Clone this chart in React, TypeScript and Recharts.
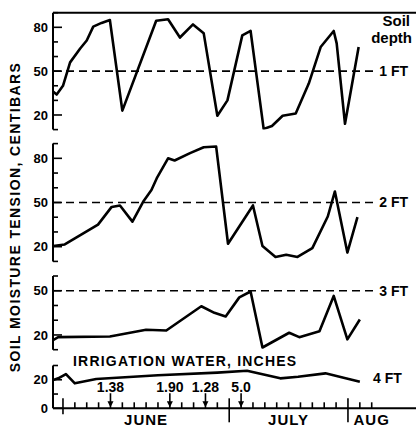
import React from 'react';
import { ComposedChart, Line, XAxis, YAxis, ReferenceLine, Scatter } from 'recharts';

const W = 416;
const H = 430;
const FONT = '"Liberation Sans", Arial, Helvetica, sans-serif';

// x is counted in axis tick steps, 0 = start of June
const dayTicks = [0, 1, 2, 3, 4, 5, 6, 7, 8, 9, 10, 11, 12, 13, 14, 15, 16, 17, 18, 19, 20, 21, 22, 23, 24, 25, 26];
const monthNames = ['JUNE', 'JULY', 'AUG'];
const monthStarts = [0, 14, 24];
const monthCenters = [7, 19, 26];

const tensionLabels = [0, 20, 50, 80];

// 1 FT
const depth1Days = [-0.84, -0.53, 0.0, 0.6, 1.45, 2.0, 2.55, 3.25, 3.95, 5.0, 7.85, 8.85, 9.85, 10.95, 11.85, 13.0, 13.85, 15.1, 15.8, 16.9, 17.6, 18.5, 19.6, 20.7, 21.7, 22.8, 23.05, 23.75, 24.9];
const depth1Tension = [36, 34, 40, 56, 65.5, 71, 80.5, 83, 85, 23, 84.5, 85.5, 73, 82, 76, 19.5, 30, 74.5, 77.5, 10.5, 12.5, 19.5, 21, 41.5, 66.5, 77.5, 69, 14, 66.5];

// 2 FT
const depth2Days = [-0.84, 0.15, 2.95, 4.1, 4.8, 5.85, 6.75, 7.45, 7.9, 8.85, 9.4, 10.7, 11.85, 12.9, 13.9, 16.0, 16.8, 17.9, 18.8, 19.75, 21.0, 22.3, 22.9, 23.95, 24.8];
const depth2Tension = [20.5, 21.5, 35, 47, 48, 37, 50.5, 58.5, 66.5, 80, 78.5, 83.5, 87.5, 88, 22, 48, 20.5, 13, 14.5, 13, 19, 40.5, 57.5, 16, 40];

// 3 FT
const depth3Days = [-0.84, -0.4, 3.95, 7.0, 8.7, 11.65, 12.75, 13.7, 14.85, 15.8, 16.8, 19.05, 19.9, 21.6, 22.8, 23.95, 25.0];
const depth3Tension = [16.5, 18.5, 19, 23.5, 23, 39.5, 35, 32.5, 45.5, 49.5, 11.5, 21.5, 18.5, 22.5, 46.5, 17, 30.5];

// 4 FT
const depth4Days = [-0.84, -0.4, 0.25, 1.0, 2.8, 8.0, 13.0, 15.5, 18.3, 19.8, 22.1, 25.0];
const depth4Tension = [19.8, 21, 24, 17.5, 20.5, 23.2, 25, 26.3, 21, 22.1, 24.5, 18.6];

// irrigation applications
const irrigationDays = [4, 9, 12, 15];
const irrigationInches = ['1.38', '1.90', '1.28', '5.0'];

const X_DOMAIN: [number, number] = [-0.84, 29.73];

const toRows = (days: number[], vals: number[]) => days.map((t, i) => ({ t, v: vals[i] }));

const panels = [
  { name: '1 FT', rows: toRows(depth1Days, depth1Tension), domain: [10, 90], ticks: [10, 20, 30, 40, 50, 60, 70, 80, 90], top: 12.7, bottom: 129.6, dashed: true, border: true },
  { name: '2 FT', rows: toRows(depth2Days, depth2Tension), domain: [10, 90], ticks: [10, 20, 30, 40, 50, 60, 70, 80, 90], top: 143.6, bottom: 261.4, dashed: true },
  { name: '3 FT', rows: toRows(depth3Days, depth3Tension), domain: [10, 60], ticks: [10, 20, 30, 40, 50, 60], top: 276, bottom: 349.7, dashed: true },
  { name: '4 FT', rows: toRows(depth4Days, depth4Tension), domain: [0, 30], ticks: [0, 10, 20, 30], top: 365.5, bottom: 408.3, xAxis: true },
];

const irrigationRows = irrigationDays.map((t, i) => ({ t, v: 0, inches: irrigationInches[i] }));

function YTick(props: any) {
  const { x, y, payload } = props;
  const v = payload.value;
  const labeled = tensionLabels.includes(v);
  return (
    <g>
      <line x1={x} x2={x + (labeled ? 9 : 5)} y1={y} y2={y} stroke="#000" strokeWidth={1.6} />
      {labeled && (
        <text x={x - 5} y={y} dy="0.36em" textAnchor="end" fontSize={13} fontWeight={700} fontFamily={FONT} fill="#000">
          {v}
        </text>
      )}
    </g>
  );
}

function XTick(props: any) {
  const { x, y, payload } = props;
  const v = payload.value;
  const mi = monthStarts.indexOf(v);
  const ci = monthCenters.indexOf(v);
  const down = mi < 0 ? 0 : mi === 0 ? 6 : 14;
  return (
    <g>
      <line x1={x} x2={x} y1={y - (mi >= 0 ? 10 : 6)} y2={y + down} stroke="#000" strokeWidth={1.6} />
      {ci >= 0 && (
        <text x={x} y={y + 17} textAnchor="middle" fontSize={15} fontWeight={700} letterSpacing={1} fontFamily={FONT} fill="#000">
          {monthNames[ci]}
        </text>
      )}
    </g>
  );
}

function IrrigationArrow(props: any) {
  const { cx, cy, payload } = props;
  return (
    <g>
      <line x1={cx} x2={cx} y1={cy - 15} y2={cy - 5} stroke="#000" strokeWidth={1.6} />
      <path d={`M${cx - 3},${cy - 7} L${cx + 3},${cy - 7} L${cx},${cy - 1} Z`} fill="#000" />
      <text x={cx} y={cy - 16.5} textAnchor="middle" fontSize={14} fontWeight={700} fontFamily={FONT} fill="#000">
        {payload.inches}
      </text>
    </g>
  );
}

export default function App() {
  return (
    <div style={{ position: 'absolute', left: 0, top: 0, width: W, height: H, background: '#fff', fontFamily: FONT }}>
      {panels.map((p) => (
        <div key={p.name} style={{ position: 'absolute', left: 0, top: 0 }}>
          <ComposedChart
            width={W}
            height={H}
            margin={{ top: p.top, right: 0, left: 0, bottom: p.xAxis ? H - p.bottom - 20 : H - p.bottom }}
          >
            <XAxis
              dataKey="t"
              type="number"
              domain={X_DOMAIN}
              allowDataOverflow
              hide={!p.xAxis}
              height={20}
              ticks={dayTicks}
              interval={0}
              tickSize={0}
              tickMargin={0}
              tickLine={false}
              axisLine={{ stroke: '#000', strokeWidth: 2 }}
              tick={<XTick />}
            />
            <YAxis
              type="number"
              domain={p.domain}
              allowDataOverflow
              width={53}
              ticks={p.ticks}
              interval={0}
              tickSize={0}
              tickMargin={0}
              tickLine={false}
              axisLine={{ stroke: '#000', strokeWidth: 2 }}
              tick={<YTick />}
            />
            {p.border && <ReferenceLine y={p.domain[1]} stroke="#000" strokeWidth={2} />}
            {p.dashed && (
              <ReferenceLine
                segment={[{ x: X_DOMAIN[0], y: 50 }, { x: 26.3, y: 50 }]}
                stroke="#000"
                strokeWidth={1.6}
                strokeDasharray="8 5"
                label={{ value: p.name, position: 'right', offset: 4, fill: '#000', fontSize: 14, fontWeight: 700, fontFamily: FONT }}
              />
            )}
            <Line
              data={p.rows}
              dataKey="v"
              type="linear"
              stroke="#000"
              strokeWidth={2.6}
              strokeLinejoin="round"
              dot={false}
              isAnimationActive={false}
            />
            {p.xAxis && (
              <Scatter data={irrigationRows} dataKey="v" isAnimationActive={false} shape={(sp: any) => <IrrigationArrow {...sp} />} />
            )}
          </ComposedChart>
        </div>
      ))}
      <svg width={W} height={H} style={{ position: 'absolute', left: 0, top: 0, pointerEvents: 'none' }}>
        <text
          x={15}
          y={217}
          dy="0.36em"
          transform="rotate(-90 15 217)"
          textAnchor="middle"
          fontSize={14}
          fontWeight={700}
          letterSpacing={1.4}
          fontFamily={FONT}
          fill="#000"
        >
          SOIL MOISTURE TENSION, CENTIBARS
        </text>
        <text x={410} y={26} textAnchor="end" fontSize={15} fontWeight={700} fontFamily={FONT} fill="#000">Soil</text>
        <text x={412} y={43} textAnchor="end" fontSize={15} fontWeight={700} fontFamily={FONT} fill="#000">depth</text>
        <text x={73} y={366} fontSize={14} fontWeight={700} letterSpacing={1.2} fontFamily={FONT} fill="#000">
          IRRIGATION WATER, INCHES
        </text>
        <text x={373} y={383} fontSize={14} fontWeight={700} fontFamily={FONT} fill="#000">4 FT</text>
      </svg>
    </div>
  );
}
